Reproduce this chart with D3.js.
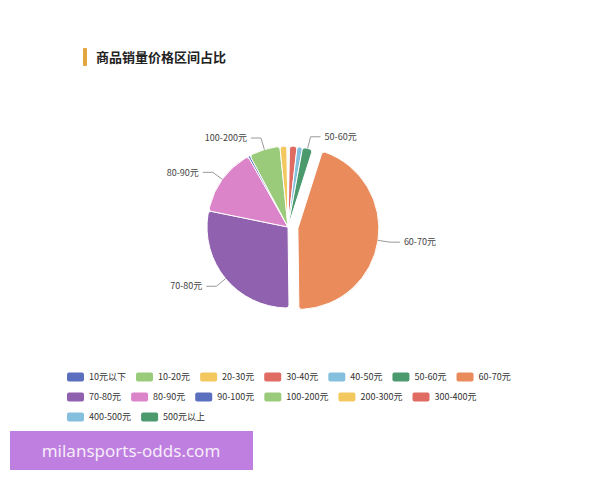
<!DOCTYPE html>
<html>
<head>
<meta charset="utf-8">
<script src="https://cdn.jsdelivr.net/npm/d3@7/dist/d3.min.js"></script>
<style>
  body { margin: 0; background: #fff; }
  svg { display: block; font-family: "Noto Sans CJK SC", "Noto Sans", sans-serif; }
</style>
</head>
<body>
<svg id="chart" width="600" height="480"></svg>
<script>
// price bands, in legend order
var categories = ["10元以下", "10-20元", "20-30元", "30-40元", "40-50元", "50-60元", "60-70元",
  "70-80元", "80-90元", "90-100元", "100-200元", "200-300元", "300-400元", "400-500元", "500元以上"];
// share of sales (%)
var shares = [0.1, 0.1, 0.1, 1.5, 1.1, 2.0, 44.9, 28.4, 13.6, 0.4, 6.2, 1.4, 0.1, 0.05, 0.05];
var palette = ["#5b6fbf", "#9acb7a", "#f3c85f", "#e06b63", "#84c0dd", "#4a9a6e", "#ea8b5b",
  "#8f61ae", "#dc84c9"];
var selectedCat = "60-70元";
var titleText = "商品销量价格区间占比";

var svg = d3.select("#chart");
var W = 600;

/*
 * title with the little bar in front
 */
svg.append("rect").attr("x", 83).attr("y", 48).attr("width", 4).attr("height", 18)
  .attr("rx", 1).attr("fill", "#e3a640");
svg.append("text").attr("x", 96).attr("y", 62)
  .attr("font-size", 13).attr("font-weight", "bold").attr("fill", "#222")
  .text(titleText);

var data = categories.map(function(c, i){ return { name: c, value: shares[i] }; });
var color = d3.scaleOrdinal().domain(categories).range(palette);

var cx = 288, cy = 227, R = 81;
var pie = d3.pie().value(function(d){ return d.value; }).sort(null);
var arcs = pie(data);
var total = d3.sum(shares);
var arc = d3.arc().innerRadius(0).outerRadius(R).cornerRadius(3);

var g = svg.append("g").attr("transform", "translate(" + cx + "," + cy + ")");

function offsetOf(d){
  if (d.data.name !== selectedCat) return [0, 0];
  var a = (d.startAngle + d.endAngle) / 2;
  return [10 * Math.sin(a), -10 * Math.cos(a)];
}

g.selectAll("path.slice").data(arcs).enter().append("path")
  .attr("class", "slice")
  .attr("d", arc)
  .attr("transform", function(d){ var o = offsetOf(d); return "translate(" + o[0] + "," + o[1] + ")"; })
  .attr("fill", function(d){ return color(d.data.name); })
  .attr("stroke", "#fff").attr("stroke-width", 1);

// labels only where the slice is big enough (the small ones get hidden)
var labelled = arcs.filter(function(d){ return d.data.value / total >= 0.018; });
var len1 = 12, len2 = 10;

labelled.forEach(function(d){
  var a = (d.startAngle + d.endAngle) / 2;
  var o = offsetOf(d);
  var sx = Math.sin(a), sy = -Math.cos(a);
  var p0 = [o[0] + R * sx, o[1] + R * sy];
  var p1 = [o[0] + (R + len1) * sx, o[1] + (R + len1) * sy];
  var right = sx >= 0;
  var p2 = [p1[0] + (right ? len2 : -len2), p1[1]];
  g.append("path")
    .attr("d", d3.line()([p0, p1, p2]))
    .attr("fill", "none").attr("stroke", "#999").attr("stroke-width", 1);
  g.append("text")
    .attr("x", p2[0] + (right ? 4 : -4)).attr("y", p2[1])
    .attr("dy", "0.35em")
    .attr("text-anchor", right ? "start" : "end")
    .attr("font-size", 9).attr("fill", "#444")
    .text(d.data.name);
});

/*
 * legend, flowing into rows
 */
var legX = 67, legY = 377, legMax = 537, rowH = 20;
var iconW = 17, iconH = 9, itemGap = 10;
var lx = legX, ly = legY;
var legend = svg.append("g");
categories.forEach(function(c){
  var item = legend.append("g");
  item.append("rect").attr("width", iconW).attr("height", iconH).attr("rx", 2)
    .attr("y", -iconH / 2).attr("fill", color(c));
  var t = item.append("text").attr("x", iconW + 5).attr("dy", "0.35em")
    .attr("font-size", 9).attr("fill", "#333").text(c);
  var w = iconW + 5 + t.node().getComputedTextLength();
  if (lx + w > legMax) { lx = legX; ly += rowH; }
  item.attr("transform", "translate(" + lx + "," + ly + ")");
  lx += w + itemGap;
});

// watermark banner
svg.append("rect").attr("x", 10).attr("y", 431).attr("width", 243).attr("height", 39)
  .attr("fill", "#bf7fe0");
svg.append("text").attr("x", 131).attr("y", 451).attr("dy", "0.35em")
  .attr("text-anchor", "middle").attr("font-family", "'Noto Sans', sans-serif")
  .attr("font-size", 17).attr("fill", "#f6ecfa")
  .text("milansports-odds.com");
</script>
</body>
</html>
